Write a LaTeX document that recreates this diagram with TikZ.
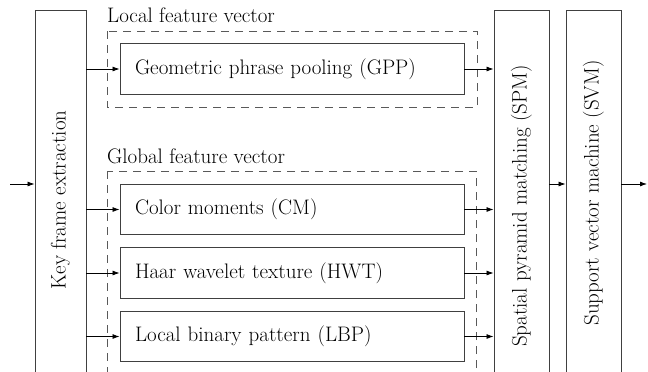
\documentclass[tikz,border=0pt]{standalone}
\usetikzlibrary{arrows.meta}
\begin{document}
\begin{tikzpicture}[x=1pt,y=-1pt,
  font=\fontsize{21}{25}\selectfont,
  box/.style={draw=black!75, line width=0.9pt, inner sep=0pt},
  vbox/.style={box, rotate=90, minimum height=#1},
  fbox/.style={box, minimum width=344pt, minimum height=50.5pt, text width=314pt, align=left, inner xsep=15pt},
  grp/.style={draw=black!65, line width=0.9pt, dash pattern=on 8pt off 6pt},
  arr/.style={draw=black, line width=0.8pt, -{Latex[length=7pt,width=5pt]}}]
\clip (0,0) rectangle (648,372);
\node[vbox=51pt, minimum width=380pt] (kfe) at (60.5,200) {Key frame extraction};
\node[vbox=55pt, minimum width=392pt] (spm) at (521.5,206) {Spatial pyramid matching (SPM)};
\node[vbox=55pt, minimum width=366pt] (svm) at (593.5,193) {Support vector machine (SVM)};
\draw[grp] (107,31) rectangle (477,107);
\draw[grp] (107,171) rectangle (476,400);
\node[anchor=base west, inner sep=0pt] (lfv) at (107,23) {Local feature vector};
\node[anchor=base west, inner sep=0pt] (gfv) at (107,163) {Global feature vector};
\node[fbox] (gpp) at (292,69) {Geometric phrase pooling (GPP)};
\node[fbox] (cm) at (292,209.5) {Color moments (CM)};
\node[fbox] (hwt) at (292,273) {Haar wavelet texture (HWT)};
\node[fbox] (lbp) at (292,336.5) {Local binary pattern (LBP)};
\coordinate (in) at (10,184);
\coordinate (out) at (647,184);
\draw[arr] (in) -- (in -| kfe.north);
\foreach \n in {gpp,cm,hwt,lbp}{
  \draw[arr] (kfe.south |- \n) -- (\n.west);
  \draw[arr] (\n.east) -- (\n -| spm.north);
}
\draw[arr] (spm.south |- in) -- (svm.north |- in);
\draw[arr] (svm.south |- out) -- (out);
\end{tikzpicture}
\end{document}
